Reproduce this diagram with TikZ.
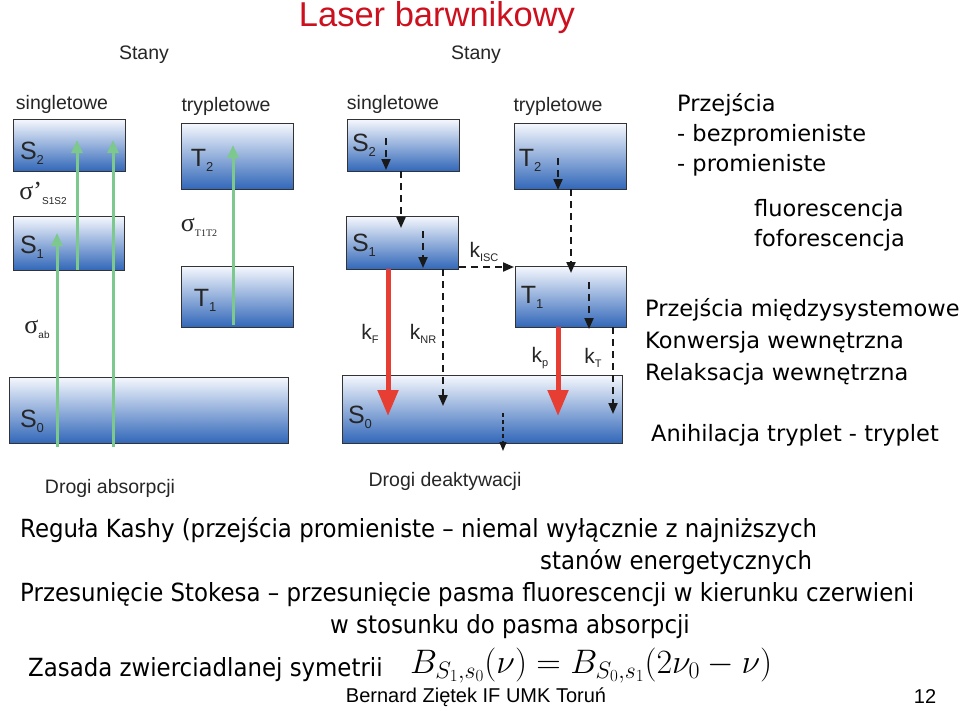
\RequirePackage{fix-cm}
\documentclass[tikz,border=0pt]{standalone}
\usepackage{fontspec}
\setmainfont{Liberation Sans}
\newfontfamily\tah{DejaVu Sans}
\newfontfamily\tahn[FakeStretch=0.915]{DejaVu Sans}
\newfontfamily\srf{Liberation Serif}
\usetikzlibrary{arrows.meta}
\definecolor{boxtop}{RGB}{244,247,253}
\definecolor{boxmid}{RGB}{175,200,233}
\definecolor{boxbot}{RGB}{48,102,184}
\definecolor{grn}{RGB}{125,200,140}
\definecolor{redarr}{RGB}{230,62,50}
\definecolor{ttl}{RGB}{205,16,30}
\newcommand\lvl[2]{{\fontsize{25}{25}\selectfont #1}{\fontsize{13}{13}\selectfont\raisebox{-5pt}{#2}}}
\newcommand\kk[1]{{\fontsize{21}{21}\selectfont k}{\fontsize{11}{11}\selectfont\raisebox{-4pt}{#1}}}
\begin{document}
\begin{tikzpicture}[x=1pt,y=-1pt,
  levelbox/.style={draw=black!80, line width=1.2pt, top color=boxtop, middle color=boxmid, bottom color=boxbot, inner sep=0pt, anchor=north west},
  lab/.style={inner sep=0pt, text=black!85},
  hdr/.style={inner sep=0pt, font=\fontsize{19.5}{19.5}\selectfont, text=black!85},
  side/.style={inner sep=0pt, anchor=base west, font=\tah\fontsize{22.5}{27}\selectfont},
  bottom/.style={inner sep=0pt, anchor=base west, font=\tahn\fontsize{25}{30}\selectfont},
  greenarr/.style={draw=grn, line width=3pt, -{Triangle[width=11pt,length=13pt]}},
  redarrow/.style={draw=redarr, line width=5pt, -{Triangle[width=20pt,length=26pt]}},
  dasharr/.style={draw=black!90, line width=2pt, dash pattern=on 7pt off 5pt, -{Triangle[width=9pt,length=11pt]}},
  finearr/.style={draw=black!90, line width=1.3pt, dash pattern=on 4pt off 3pt, -{Triangle[width=7pt,length=9pt]}}
]
\useasboundingbox (0,0) rectangle (960,710);
\fill[white] (0,0) rectangle (960,710);

% title
\node[inner sep=0pt, text=ttl, font=\fontsize{34.5}{34.5}\selectfont] (title) at (437,18) {Laser barwnikowy};

% headers
\node[hdr] (stanyL) at (144,55) {Stany};
\node[hdr] (stanyR) at (476,55) {Stany};
\node[hdr] (singL) at (62,104) {singletowe};
\node[hdr] (trypL) at (226,106) {trypletowe};
\node[hdr] (singR) at (393,104) {singletowe};
\node[hdr] (trypR) at (558,106) {trypletowe};

% left boxes
\node[levelbox, minimum width=112pt, minimum height=52pt] (lS2) at (13,119) {};
\node[levelbox, minimum width=111pt, minimum height=54pt] (lS1) at (13,216) {};
\node[levelbox, minimum width=112pt, minimum height=66pt] (lT2) at (181,123) {};
\node[levelbox, minimum width=112pt, minimum height=61pt] (lT1) at (181,266) {};
\node[levelbox, minimum width=279pt, minimum height=66pt] (lS0) at (9,377) {};
% right boxes
\node[levelbox, minimum width=112pt, minimum height=52pt] (rS2) at (347,119) {};
\node[levelbox, minimum width=112pt, minimum height=53pt] (rS1) at (346,216) {};
\node[levelbox, minimum width=112pt, minimum height=66pt] (rT2) at (514,123) {};
\node[levelbox, minimum width=111pt, minimum height=61pt] (rT1) at (515,266) {};
\node[levelbox, minimum width=280pt, minimum height=68pt] (rS0) at (342,375) {};

% level labels
\node[lab] (tlS2) at (32,153) {\lvl{S}{2}};
\node[lab] (tlS1) at (32,247) {\lvl{S}{1}};
\node[lab] (tlS0) at (32,421) {\lvl{S}{0}};
\node[lab] (tlT2) at (202,160) {\lvl{T}{2}};
\node[lab] (tlT1) at (205,300) {\lvl{T}{1}};
\node[lab] (trS2) at (364,145) {\lvl{S}{2}};
\node[lab] (trS1) at (364,245) {\lvl{S}{1}};
\node[lab] (trT2) at (530,160) {\lvl{T}{2}};
\node[lab] (trT1) at (532,297) {\lvl{T}{1}};
\node[lab] (trS0) at (360,417) {\lvl{S}{0}};

% sigma labels
\node[lab] (sig1) at (43,193) {{\srf\fontsize{26}{26}\selectfont σ’}{\fontsize{10}{10}\selectfont\raisebox{-5pt}{S1S2}}};
\node[lab] (sig2) at (199,227) {{\srf\fontsize{26}{26}\selectfont σ}{\srf\fontsize{10}{10}\selectfont\raisebox{-5pt}{T1T2}}};
\node[lab] (sig3) at (37,329) {{\srf\fontsize{26}{26}\selectfont σ}{\fontsize{10}{10}\selectfont\raisebox{-5pt}{ab}}};

% k labels
\node[lab] (kF) at (370,334) {\kk{F}};
\node[lab] (kNR) at (423,334) {\kk{NR}};
\node[lab] (kp) at (540,358) {\kk{p}};
\node[lab] (kT) at (593,358) {\kk{T}};
\node[lab] (kISC) at (484,252) {\kk{ISC}};

% green arrows coordinates
\coordinate (g1a) at (57,447); \coordinate (g1b) at (57,233);
\coordinate (g2a) at (77,270); \coordinate (g2b) at (77,140);
\coordinate (g3a) at (113,447); \coordinate (g3b) at (113,140);
\coordinate (g4a) at (233,325); \coordinate (g4b) at (233,145);
\draw[greenarr] (g1a) -- (g1b);
\draw[greenarr] (g2a) -- (g2b);
\draw[greenarr] (g3a) -- (g3b);
\draw[greenarr] (g4a) -- (g4b);

% deactivation arrows
\coordinate (d1a) at (386,138); \coordinate (d1b) at (386,170);
\coordinate (d2a) at (401,171); \coordinate (d2b) at (401,228);
\coordinate (d3a) at (423,231); \coordinate (d3b) at (423,268);
\coordinate (isa) at (459,267); \coordinate (isb) at (514,267);
\coordinate (nra) at (443,269); \coordinate (nrb) at (443,406);
\coordinate (kfa) at (388,269); \coordinate (kfb) at (388,416);
\coordinate (t2a) at (558,158); \coordinate (t2b) at (558,190);
\coordinate (t21a) at (571,189); \coordinate (t21b) at (571,273);
\coordinate (t1a) at (589,282); \coordinate (t1b) at (589,329);
\coordinate (kpa) at (558,327); \coordinate (kpb) at (558,416);
\coordinate (kta) at (613,327); \coordinate (ktb) at (613,414);
\coordinate (s0a) at (503,413); \coordinate (s0b) at (503,451);
\draw[dasharr] (d1a) -- (d1b);
\draw[dasharr] (d2a) -- (d2b);
\draw[dasharr] (d3a) -- (d3b);
\draw[dasharr] (isa) -- (isb);
\draw[dasharr] (nra) -- (nrb);
\draw[redarrow] (kfa) -- (kfb);
\draw[dasharr] (t2a) -- (t2b);
\draw[dasharr] (t21a) -- (t21b);
\draw[dasharr] (t1a) -- (t1b);
\draw[redarrow] (kpa) -- (kpb);
\draw[dasharr] (kta) -- (ktb);
\draw[finearr] (s0a) -- (s0b);

% footers of the diagram
\node[hdr] (drogiA) at (110,488) {Drogi absorpcji};
\node[hdr] (drogiD) at (445,481) {Drogi deaktywacji};

% side text
\node[side] (p1) at (677,111) {Przejścia};
\node[side] (p2) at (677,141) {- bezpromieniste};
\node[side] (p3) at (677,171) {- promieniste};
\node[side] (p4) at (754,216) {fluorescencja};
\node[side] (p5) at (754,246) {foforescencja};
\node[side] (p6) at (645,316) {Przejścia międzysystemowe};
\node[side] (p7) at (645,348) {Konwersja wewnętrzna};
\node[side] (p8) at (645,380) {Relaksacja wewnętrzna};
\node[side] (p9) at (651,441) {Anihilacja tryplet - tryplet};

% bottom text
\node[bottom] (b1) at (20,537) {Reguła Kashy (przejścia promieniste – niemal wyłącznie z najniższych};
\node[bottom] (b2) at (540,569) {stanów energetycznych};
\node[bottom] (b3) at (20,601) {Przesunięcie Stokesa – przesunięcie pasma fluorescencji w kierunku czerwieni};
\node[bottom] (b4) at (330,633) {w stosunku do pasma absorpcji};
\node[bottom] (b5) at (28,676) {Zasada zwierciadlanej symetrii};
\node[inner sep=0pt, anchor=base west, font=\fontsize{34}{34}\selectfont] (formula) at (410,673) {$B_{S_1,s_0}(\nu)=B_{S_0,s_1}(2\nu_0-\nu)$};
\node[inner sep=0pt, font=\fontsize{20}{20}\selectfont] (author) at (476,697) {Bernard Ziętek IF UMK Toruń};
\node[inner sep=0pt, font=\fontsize{20}{20}\selectfont] (page) at (925,697) {12};
\end{tikzpicture}
\end{document}
